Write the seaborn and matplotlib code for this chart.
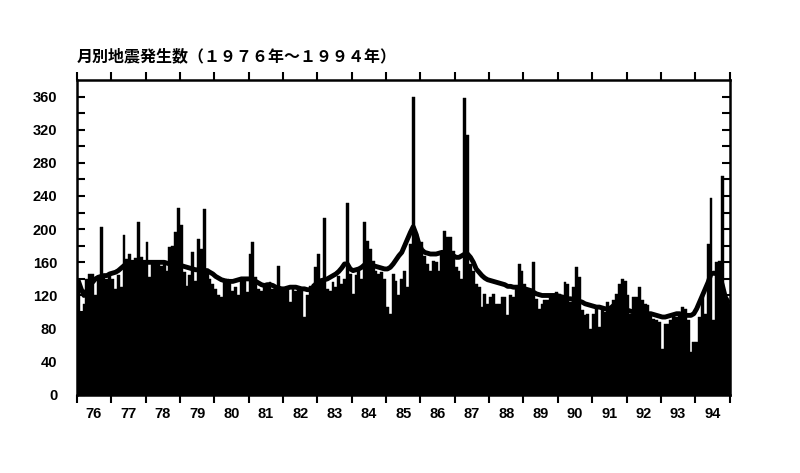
import numpy as np
import pandas as pd
import seaborn as sns
import matplotlib.pyplot as plt

sns.set_style("ticks", {"axes.edgecolor": "black", "xtick.color": "black",
                        "ytick.color": "black", "text.color": "black"})
plt.rcParams['font.family'] = ['Liberation Sans', 'DejaVu Sans']

years = ['76', '77', '78', '79', '80', '81', '82', '83', '84', '85',
         '86', '87', '88', '89', '90', '91', '92', '93', '94']

# monthly counts, one list per year (Jan..Dec)
y76 = [138, 100, 110, 140, 146, 146, 120, 144, 202, 142, 140, 145]
y77 = [140, 128, 145, 130, 193, 164, 170, 158, 165, 209, 166, 160]
y78 = [184, 142, 160, 158, 160, 155, 162, 150, 178, 180, 196, 226]
y79 = [205, 148, 132, 145, 172, 138, 188, 176, 224, 152, 140, 134]
y80 = [128, 120, 118, 138, 140, 135, 126, 130, 120, 140, 138, 124]
y81 = [170, 185, 142, 128, 126, 132, 130, 136, 128, 132, 155, 126]
y82 = [126, 130, 112, 128, 126, 130, 128, 94, 120, 132, 134, 154]
y83 = [170, 140, 214, 128, 126, 136, 130, 144, 134, 140, 232, 146]
y84 = [122, 145, 150, 140, 209, 186, 176, 162, 150, 146, 148, 140]
y85 = [106, 98, 146, 138, 120, 140, 150, 130, 182, 360, 194, 182]
y86 = [184, 168, 158, 150, 162, 160, 150, 170, 198, 190, 190, 174]
y87 = [154, 150, 140, 358, 314, 158, 150, 134, 130, 106, 122, 110]
y88 = [118, 122, 110, 110, 118, 118, 96, 120, 118, 130, 158, 150]
y89 = [134, 126, 128, 160, 116, 104, 110, 114, 114, 118, 122, 124]
y90 = [122, 120, 136, 134, 112, 130, 154, 142, 102, 96, 98, 80]
y91 = [98, 104, 82, 106, 100, 112, 104, 114, 122, 134, 140, 138]
y92 = [120, 98, 118, 118, 130, 114, 110, 108, 96, 92, 90, 88]
y93 = [56, 86, 86, 90, 96, 94, 98, 106, 104, 90, 52, 64]
y94 = [64, 94, 120, 98, 182, 238, 90, 160, 162, 264, 118, 110]

# smoothed line
t76 = [138, 128, 120, 126, 132, 136, 140, 142, 143, 144, 144, 146]
t77 = [147, 148, 150, 153, 156, 158, 160, 160, 160, 160, 160, 160]
t78 = [160, 160, 160, 160, 160, 160, 160, 159, 158, 158, 157, 156]
t79 = [156, 155, 154, 153, 152, 151, 151, 150, 150, 150, 148, 146]
t80 = [143, 141, 139, 138, 137, 137, 137, 138, 139, 140, 140, 140]
t81 = [140, 139, 137, 135, 133, 132, 133, 133, 132, 130, 129, 128]
t82 = [128, 129, 130, 130, 130, 129, 128, 128, 127, 127, 130, 134]
t83 = [137, 138, 139, 140, 142, 144, 146, 149, 153, 158, 158, 152]
t84 = [150, 151, 152, 154, 157, 158, 157, 156, 155, 154, 153, 152]
t85 = [152, 154, 158, 163, 168, 172, 180, 188, 196, 203, 194, 182]
t86 = [175, 172, 171, 170, 170, 170, 171, 172, 172, 171, 170, 168]
t87 = [166, 166, 168, 170, 170, 166, 160, 152, 148, 144, 141, 139]
t88 = [138, 137, 136, 135, 134, 133, 131, 131, 130, 130, 130, 129]
t89 = [128, 127, 126, 124, 122, 121, 120, 120, 120, 120, 120, 120]
t90 = [119, 118, 117, 116, 116, 115, 114, 113, 112, 110, 109, 108]
t91 = [107, 106, 106, 105, 104, 104, 105, 108, 110, 108, 105, 103]
t92 = [102, 101, 100, 100, 100, 99, 99, 98, 98, 97, 96, 95]
t93 = [94, 94, 95, 96, 97, 98, 98, 97, 96, 96, 96, 98]
t94 = [104, 112, 120, 128, 136, 146, 147, 146, 144, 132, 118, 112]

counts = (y76 + y77 + y78 + y79 + y80 + y81 + y82 + y83 + y84 + y85
          + y86 + y87 + y88 + y89 + y90 + y91 + y92 + y93 + y94)
trend = (t76 + t77 + t78 + t79 + t80 + t81 + t82 + t83 + t84 + t85
         + t86 + t87 + t88 + t89 + t90 + t91 + t92 + t93 + t94)

df = pd.DataFrame({"month": np.arange(len(counts)), "count": counts, "trend": trend})

fig = plt.figure(figsize=(8, 4.73), dpi=100)
ax = fig.add_axes([0.096, 0.165, 0.816, 0.666])

sns.barplot(data=df, x="month", y="count", color="black", width=1.0, saturation=1,
            errorbar=None, edgecolor="black", linewidth=0.3, ax=ax)
sns.lineplot(data=df, x="month", y="trend", color="black", linewidth=3.5, ax=ax)

n = len(counts)
ax.set_xlim(-0.5, n - 0.5)
ax.set_ylim(0, 380)
ax.set_xlabel("")
ax.set_ylabel("")

# y ticks: labels every 40, inward ticks every 20 on both sides
ax.set_yticks(np.arange(0, 361, 40))
ax.set_yticks(np.arange(0, 361, 20), minor=True)
ax.tick_params(axis="y", which="both", direction="in", length=6, width=1.5,
               right=True, labelsize=10.5, pad=14)

# year boundaries as ticks (out, top and bottom), labels centered in each year
bounds = np.arange(len(years) + 1) * 12 - 0.5
ax.set_xticks(bounds)
ax.set_xticklabels([])
ax.set_xticks(np.arange(len(years)) * 12 + 5.5, minor=True)
ax.set_xticklabels(years, minor=True)
ax.tick_params(axis="x", which="major", direction="out", length=6, width=1.5,
               top=True, bottom=True)
ax.tick_params(axis="x", which="minor", length=0, labelsize=10.5, pad=9)

for lab in ax.get_yticklabels() + ax.get_xticklabels(minor=True):
    lab.set_fontweight("bold")

for s in ax.spines.values():
    s.set_linewidth(1.8)
    s.set_color("black")

fig.text(0.096, 1 - 56 / 473, "月別地震発生数（１９７６年～１９９４年）",
         family=["Noto Sans CJK JP", "DejaVu Sans"], fontsize=11.5, fontweight="bold",
         va="center", ha="left")

plt.savefig("out.png", dpi=100)
